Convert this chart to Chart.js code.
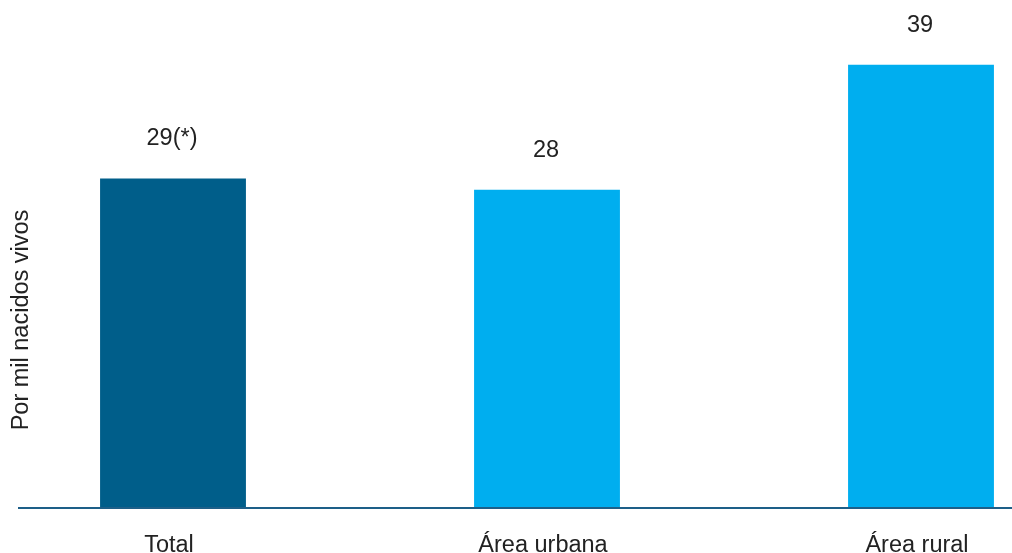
<!DOCTYPE html>
<html>
<head>
<meta charset="utf-8">
<script src="https://cdn.jsdelivr.net/npm/chart.js@4/dist/chart.umd.min.js"></script>
<style>
  html, body { margin: 0; padding: 0; background: #ffffff; overflow: hidden; width: 1012px; height: 553px; }
  #wrap { position: absolute; left: -14px; top: 0; width: 1122px; height: 553px; }
</style>
</head>
<body>
<div id="wrap"><canvas id="c" width="1122" height="553"></canvas></div>
<script>
const categories = ["Total", "Área urbana", "Área rural"];
const values = [29, 28, 39];
const valueLabels = ["29(*)", "28", "39"];
const yAxisTitle = "Por mil nacidos vivos";

const DARK = "#005e8a";
const LIGHT = "#00aeef";
const TEXT = "#222222";
const FONT = "23.5px 'Liberation Sans', Arial, sans-serif";
const OFFSET_X = 14; // canvas is shifted left by this many px

const overlay = {
  id: "overlay",
  afterDatasetsDraw(chart) {
    const ctx = chart.ctx;
    const y = chart.scales.y;
    const zero = y.getPixelForValue(0);
    ctx.save();
    // baseline
    ctx.strokeStyle = "#1d5f88";
    ctx.lineWidth = 2;
    ctx.beginPath();
    ctx.moveTo(18 + OFFSET_X, zero);
    ctx.lineTo(1012 + OFFSET_X, zero);
    ctx.stroke();
    // labels
    ctx.fillStyle = TEXT;
    ctx.font = FONT;
    ctx.textAlign = "center";
    ctx.textBaseline = "alphabetic";
    const meta = chart.getDatasetMeta(0);
    meta.data.forEach((bar, i) => {
      ctx.fillText(valueLabels[i], bar.x - 1, bar.y - 33);
      ctx.fillText(categories[i], bar.x - 4, 552);
    });
    // y title
    ctx.translate(28 + OFFSET_X, 320);
    ctx.rotate(-Math.PI / 2);
    ctx.fillText(yAxisTitle, 0, 0);
    ctx.restore();
  }
};

new Chart(document.getElementById("c"), {
  type: "bar",
  data: {
    labels: categories,
    datasets: [{
      data: values,
      backgroundColor: [DARK, LIGHT, LIGHT],
      borderWidth: 0,
      barPercentage: 0.39,
      categoryPercentage: 1
    }]
  },
  options: {
    responsive: false,
    animation: false,
    devicePixelRatio: 1,
    layout: { padding: { top: 8, bottom: 45, left: 0, right: 0 } },
    plugins: { legend: { display: false }, tooltip: { enabled: false } },
    scales: {
      x: { display: false, offset: true },
      y: { display: false, min: 0, max: 44 }
    }
  },
  plugins: [overlay]
});
</script>
</body>
</html>
